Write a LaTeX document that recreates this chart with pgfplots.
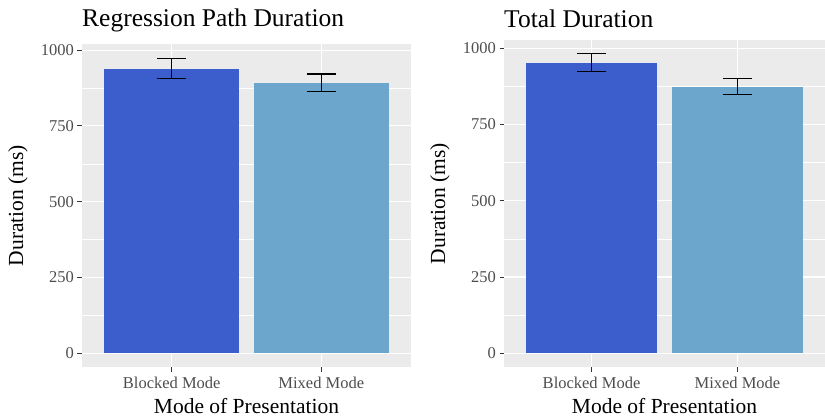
\documentclass[border=0pt]{standalone}
\usepackage{pgfplots}
\pgfplotsset{compat=1.18}
\usepackage{fontspec}
\setmainfont{Liberation Serif}
\definecolor{blocked}{HTML}{3B5ECC}
\definecolor{mixed}{HTML}{6CA6CD}
\definecolor{panelbg}{HTML}{EBEBEB}
\definecolor{gray30}{HTML}{4D4D4D}
\definecolor{gray20}{HTML}{333333}
\pgfplotsset{ggbar/.style={
  scale only axis,
  axis background/.style={fill=panelbg},
  axis line style={draw=none},
  xmin=0.4, xmax=2.6,
  xtick={1,2}, xticklabels={Blocked Mode, Mixed Mode},
  ytick={0,250,500,750,1000},
  minor ytick={125,375,625,875},
  xmajorgrids, ymajorgrids, yminorgrids,
  major grid style={white, line width=1.1pt},
  minor grid style={white, line width=0.55pt},
  tick align=outside,
  major tick length=4.5pt,
  minor tick length=0pt,
  xtick pos=bottom, ytick pos=left,
  tick style={gray20, line width=0.9pt},
  ticklabel style={font=\fontsize{16.5}{18}\selectfont, text=gray30},
  xticklabel style={yshift=-2pt},
  /pgf/number format/assume math mode=true,
  /pgf/number format/set thousands separator={},
  xlabel={Mode of Presentation},
  ylabel={Duration (ms)},
  xlabel style={font=\fontsize{21.5}{24}\selectfont, at={(axis description cs:0.5,0)}, anchor=base, yshift=-46pt},
  title style={font=\fontsize{25.5}{28}\selectfont, at={(axis description cs:0,1)}, anchor=base west, inner sep=0pt},
  ebar/.style={ybar, bar width=0.9, bar shift=0pt, draw=none,
    error bars/.cd, y dir=both, y explicit,
    error bar style={draw=black, line width=1.3pt},
    error mark options={draw=black, rotate=90, line width=1.3pt, mark size=14.5pt}, /pgfplots/.cd},
}}
\begin{document}
\begin{tikzpicture}
\useasboundingbox (0,0) rectangle (825pt,418pt);
\begin{axis}[ggbar,
  at={(82pt,51pt)}, anchor=south west,
  width=329pt, height=323pt,
  ymin=-45, ymax=1020,
  title={Regression Path Duration},
  title style={yshift=11pt},
  ylabel style={font=\fontsize{21.5}{24}\selectfont, at={(axis description cs:-0.179,0.5)}, anchor=base},
]
\addplot[fill=blocked, ebar] coordinates {(1,939) +- (0,33)};
\addplot[fill=mixed, ebar] coordinates {(2,892) +- (0,29)};
\end{axis}
\begin{axis}[ggbar,
  at={(504pt,51pt)}, anchor=south west,
  width=321pt, height=327pt,
  ymin=-45, ymax=1027,
  title={Total Duration},
  title style={yshift=6pt},
  ylabel style={font=\fontsize{21.5}{24}\selectfont, at={(axis description cs:-0.1838,0.5)}, anchor=base},
]
\addplot[fill=blocked, ebar] coordinates {(1,953) +- (0,29)};
\addplot[fill=mixed, ebar] coordinates {(2,874) +- (0,26)};
\end{axis}
\end{tikzpicture}
\end{document}
